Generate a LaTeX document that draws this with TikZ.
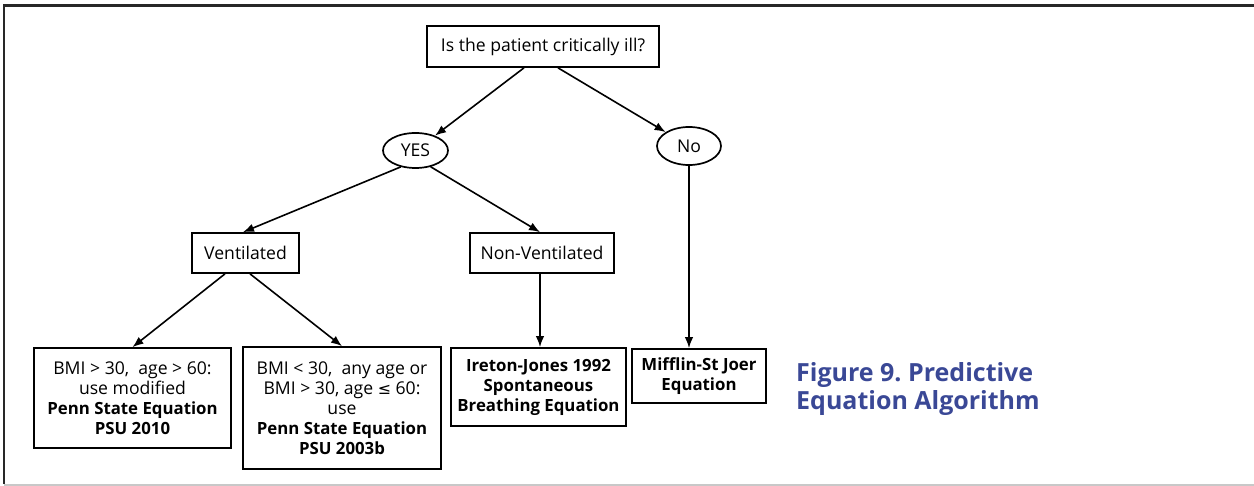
\documentclass[tikz,border=0pt]{standalone}
\usepackage{fontspec}
\setmainfont{Open Sans}
\newfontfamily\symfont{DejaVu Sans}[Scale=0.9]
\usetikzlibrary{shapes.geometric,arrows.meta}
\definecolor{framedark}{RGB}{40,40,40}
\definecolor{framelight}{RGB}{200,200,200}
\definecolor{captionblue}{RGB}{58,72,150}
% bold lines are set a little smaller than the regular ones
\newcommand{\bl}[1]{{\fontsize{16.8}{20}\selectfont\bfseries #1}}
\frenchspacing
\tikzset{
  box/.style={draw=black, line width=1.7pt, rectangle, inner sep=0pt, align=center,
              font=\fontsize{17.6}{20}\selectfont},
  oval/.style={draw=black, line width=1.7pt, ellipse, inner sep=0pt,
               font=\fontsize{17.6}{20}\selectfont},
  link/.style={line width=1.6pt, -{Latex[length=11pt,width=8.5pt]}},
}
\begin{document}
\begin{tikzpicture}[x=1pt,y=-1pt]
  \useasboundingbox (0,0) rectangle (1254,486);
  % frame lines
  \draw[framedark, line width=2.6pt] (1254,5.5) -- (4,5.5) -- (4,484);
  \draw[framelight, line width=2pt] (4,484.5) -- (1254,484.5);

  % nodes
  \node[box, minimum width=232pt, minimum height=41pt] (q) at (543,46.5) {Is the patient critically ill?};
  \node[oval, minimum width=65pt, minimum height=35pt] (yes) at (415.5,150.5) {YES};
  \node[oval, minimum width=64pt, minimum height=38pt] (no) at (689,146) {No};
  \node[box, minimum width=107pt, minimum height=40pt] (vent) at (245.5,253) {Ventilated};
  \node[box, minimum width=144pt, minimum height=40pt] (nonvent) at (542,253) {Non-Ventilated};
  \node[box, minimum width=197pt, minimum height=100pt] (bmia) at (132.5,398)
    {BMI > 30,\ \ age > 60:\\use modified\\\bl{Penn State Equation}\\\bl{PSU 2010}};
  \node[box, minimum width=198pt, minimum height=122pt] (bmib) at (342,408)
    {BMI < 30,\ \ any age or\\BMI > 30, age {\symfont ≤} 60:\\use\\\bl{Penn State Equation}\\\bl{PSU 2003b}};
  \node[box, minimum width=175pt, minimum height=78pt] (ire) at (538.5,387)
    {\bl{Ireton-Jones 1992}\\\bl{Spontaneous}\\\bl{Breathing Equation}};
  \node[box, minimum width=134pt, minimum height=54pt] (mif) at (699,376)
    {\bl{Mifflin-St Joer}\\\bl{Equation}};
  \node[anchor=west, align=left, text=captionblue, inner sep=0pt,
        font=\fontsize{25}{28.5}\selectfont\bfseries] (cap) at (796,389)
    {Figure 9. Predictive\\Equation Algorithm};

  % connectors
  \draw[link] ([xshift=-19pt]q.south) -- (yes);
  \draw[link] ([xshift=15pt]q.south) -- (no);
  \draw[link] (yes.228) -- ([xshift=-2.5pt]vent.north);
  \draw[link] (yes.313) -- ([xshift=-2pt]nonvent.north);
  \draw[link] ([xshift=-20.5pt]vent.south) -- (bmia.north);
  \draw[link] ([xshift=4.5pt]vent.south) -- (bmib.north);
  \draw[link] ([xshift=-2pt]nonvent.south) -- ([xshift=-2pt]nonvent.south |- ire.north);
  \draw[link] (no.south) -- (no.south |- mif.north);
\end{tikzpicture}
\end{document}
